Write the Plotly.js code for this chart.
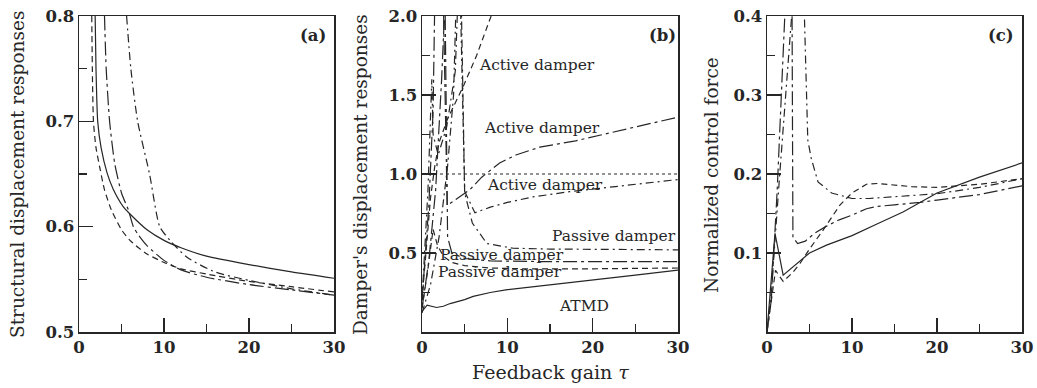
<!DOCTYPE html>
<html>
<head>
<meta charset="utf-8">
<script src="https://cdn.plot.ly/plotly-3.0.1.min.js"></script>
<style>
  html, body { margin: 0; padding: 0; background: #fff; }
  #chart { width: 1037px; height: 388px; }
</style>
</head>
<body>
<div id="chart"></div>
<script>
// ---- (a) structural displacement responses ----
const aSolidX = [1.9, 2.0, 2.2, 2.6, 3.3, 4.0, 5.2, 6.0, 8.0, 10, 12, 15, 20, 25, 30];
const aSolidY = [0.80, 0.75, 0.70, 0.675, 0.651, 0.636, 0.619, 0.612, 0.597, 0.587, 0.580, 0.572, 0.564, 0.557, 0.551];
const aDashX = [1.5, 1.7, 2.0, 2.5, 3.0, 3.8, 5.0, 6.0, 7.0, 8.0, 10, 12, 15, 20, 25, 30];
const aDashY = [0.80, 0.70, 0.675, 0.654, 0.635, 0.616, 0.597, 0.587, 0.580, 0.574, 0.566, 0.560, 0.555, 0.548, 0.543, 0.538];
const aChainX = [3.0, 3.2, 3.6, 4.2, 5.0, 5.8, 6.4, 7.0, 8.0, 10, 12, 15, 20, 25, 30];
const aChainY = [0.80, 0.75, 0.70, 0.66, 0.632, 0.616, 0.600, 0.592, 0.582, 0.568, 0.559, 0.552, 0.545, 0.540, 0.535];
const aDotDashX = [5.6, 6.1, 6.9, 8.3, 9.5, 10.7, 12.7, 16, 20, 25, 30];
const aDotDashY = [0.80, 0.75, 0.70, 0.65, 0.60, 0.587, 0.571, 0.557, 0.549, 0.541, 0.535];

// ---- (b) damper's displacement responses ----
const bAtmdX = [0, 0.6, 1.7, 2.5, 3.3, 4, 5, 6, 8, 10, 12, 15, 20, 25, 30];
const bAtmdY = [0.13, 0.17, 0.155, 0.163, 0.18, 0.19, 0.205, 0.225, 0.25, 0.268, 0.28, 0.297, 0.329, 0.36, 0.392];
const bActDashX = [0, 0.5, 1.0, 1.5, 2.0, 3.0, 4.0, 4.8, 6.4, 7.0, 8.1];
const bActDashY = [0.20, 0.55, 0.85, 1.05, 1.20, 1.35, 1.46, 1.55, 1.75, 1.84, 2.00];
const bPasDashX = [0, 0.7, 1.3, 1.8, 2.5, 3.5, 5, 8, 12, 20, 30];
const bPasDashY = [0.15, 0.40, 0.65, 0.55, 0.48, 0.44, 0.42, 0.405, 0.40, 0.40, 0.405];
const bActChainX = [0, 0.8, 1.3, 1.5, 2.5, 2.8, 2.95, 4.0, 5.6, 7.0, 9.1, 11, 13.8, 18, 22, 26, 30];
const bActChainY = [0.20, 0.80, 1.40, 2.10, 2.10, 1.10, 0.80, 0.84, 0.90, 0.98, 1.07, 1.12, 1.17, 1.21, 1.26, 1.31, 1.36];
const bPasChainX = [0, 0.8, 1.6, 2.3, 2.7, 2.9, 3.0, 3.5, 5, 8, 15, 30];
const bPasChainY = [0.15, 0.45, 0.90, 1.60, 2.10, 1.20, 0.60, 0.50, 0.465, 0.45, 0.445, 0.445];
const bActDotDashX = [0, 0.7, 1.15, 1.3, 1.9, 2.9, 3.9, 4.2, 4.5, 5.0, 6.2, 8, 10, 13, 17.3, 22, 26, 30];
const bActDotDashY = [0.20, 0.90, 1.60, 1.25, 1.12, 1.30, 1.65, 2.10, 2.10, 0.89, 0.755, 0.79, 0.82, 0.855, 0.888, 0.915, 0.94, 0.965];
const bPasDotDashX = [0, 1, 2, 3, 3.7, 4.0, 4.6, 5.0, 5.9, 7.6, 10.7, 15, 30];
const bPasDotDashY = [0.12, 0.30, 0.60, 1.05, 1.50, 2.10, 2.10, 0.88, 0.69, 0.56, 0.53, 0.525, 0.52];
const bRefX = [0, 30];
const bRefY = [1.0, 1.0];

// ---- (c) normalized control force ----
const cSolidX = [0, 0.94, 1.9, 3, 5, 7, 10, 13, 16, 20, 25, 30];
const cSolidY = [0, 0.125, 0.072, 0.082, 0.100, 0.110, 0.122, 0.137, 0.152, 0.176, 0.196, 0.214];
const cDashX = [0, 1, 1.9, 3, 3.9, 5, 6.6, 8.6, 10, 11.7, 13, 15, 17, 20, 25, 30];
const cDashY = [0, 0.078, 0.064, 0.075, 0.087, 0.105, 0.129, 0.161, 0.176, 0.187, 0.188, 0.186, 0.184, 0.183, 0.187, 0.194];
const cChainX = [0, 0.5, 1.2, 2.1, 2.5, 2.95, 3.05, 3.6, 4.5, 5.6, 7, 8.5, 10, 11.7, 13, 15, 18, 20, 25, 30];
const cChainY = [0, 0.04, 0.18, 0.40, 0.50, 0.40, 0.12, 0.112, 0.115, 0.125, 0.134, 0.142, 0.148, 0.156, 0.159, 0.161, 0.164, 0.167, 0.174, 0.185];
const cDotDashX = [0, 0.5, 1.5, 2.9, 3.5, 4.2, 4.4, 4.8, 5.2, 6, 7.6, 10, 12, 15, 20, 25, 30];
const cDotDashY = [0, 0.05, 0.20, 0.40, 0.55, 0.50, 0.40, 0.243, 0.22, 0.19, 0.176, 0.169, 0.169, 0.171, 0.175, 0.183, 0.194];

const xTicks = [0, 10, 20, 30];

const INK = '#262626';
const SERIF = 'DejaVu Serif';
const DASH = '6px,4px';
const CHAIN = '14px,4px,3px,4px';
const DOTDASH = '8px,4px,2px,4px';

function line(x, y, dash, xa, ya, shape) {
  return {
    x: x, y: y, xaxis: xa, yaxis: ya, type: 'scatter', mode: 'lines',
    line: { color: INK, width: 1.2, dash: dash, shape: shape || 'linear', smoothing: 0.6 },
    hoverinfo: 'skip'
  };
}

const traces = [
  line(aSolidX, aSolidY, 'solid', 'x', 'y', 'spline'),
  line(aDashX, aDashY, DASH, 'x', 'y', 'spline'),
  line(aChainX, aChainY, CHAIN, 'x', 'y', 'spline'),
  line(aDotDashX, aDotDashY, DOTDASH, 'x', 'y', 'spline'),

  line(bRefX, bRefY, '3px,3px', 'x2', 'y2'),
  line(bAtmdX, bAtmdY, 'solid', 'x2', 'y2'),
  line(bActDashX, bActDashY, DASH, 'x2', 'y2'),
  line(bPasDashX, bPasDashY, DASH, 'x2', 'y2'),
  line(bActChainX, bActChainY, CHAIN, 'x2', 'y2'),
  line(bPasChainX, bPasChainY, CHAIN, 'x2', 'y2'),
  line(bActDotDashX, bActDotDashY, DOTDASH, 'x2', 'y2'),
  line(bPasDotDashX, bPasDotDashY, DOTDASH, 'x2', 'y2'),

  line(cSolidX, cSolidY, 'solid', 'x3', 'y3'),
  line(cDashX, cDashY, DASH, 'x3', 'y3'),
  line(cChainX, cChainY, CHAIN, 'x3', 'y3'),
  line(cDotDashX, cDotDashY, DOTDASH, 'x3', 'y3')
];

const W = 1037, H = 388;
const yDom = [1 - 332 / H, 1 - 16 / H];
const tickFont = { family: SERIF, size: 16.5, color: INK, weight: 'bold' };

function xAxis(left, right, anchor) {
  return {
    domain: [left / W, right / W], anchor: anchor, range: [0, 30],
    tickvals: xTicks, ticktext: xTicks.map(String),
    showline: true, mirror: true, linecolor: INK, linewidth: 1.5,
    ticks: 'inside', ticklen: 14, tickwidth: 1.2, tickcolor: INK,
    minor: { ticks: 'inside', ticklen: 8, dtick: 5, tick0: 0, tickwidth: 1.2, tickcolor: INK, showgrid: false },
    showgrid: false, zeroline: false, tickfont: tickFont, fixedrange: true
  };
}
function yAxis(range, vals, minorStep, anchor) {
  return {
    domain: yDom, anchor: anchor, range: range,
    tickvals: vals, ticktext: vals.map(v => v.toFixed(1)),
    showline: true, mirror: true, linecolor: INK, linewidth: 1.5,
    ticks: 'inside', ticklen: 14, tickwidth: 1.2, tickcolor: INK,
    minor: { ticks: 'inside', ticklen: 8, dtick: minorStep, tick0: 0, tickwidth: 1.2, tickcolor: INK, showgrid: false },
    showgrid: false, zeroline: false, tickfont: tickFont, fixedrange: true
  };
}

function paperText(text, px, py, opts) {
  return Object.assign({
    text: text, xref: 'paper', yref: 'paper', x: px / W, y: 1 - py / H,
    xanchor: 'center', yanchor: 'middle', showarrow: false,
    font: { family: SERIF, size: 18.5, color: INK }
  }, opts || {});
}
function bLabel(text, tx, ty) {
  return {
    text: text, xref: 'x2', yref: 'y2', x: tx, y: ty,
    xanchor: 'center', yanchor: 'middle', showarrow: false,
    font: { family: SERIF, size: 15.5, color: INK }
  };
}

const panelFont = { family: SERIF, size: 16.5, color: INK, weight: 'bold' };

const annotations = [
  paperText('Structural displacement responses', 18, 175, { textangle: -90 }),
  paperText("Damper's displacement responses", 361, 175, { textangle: -90 }),
  paperText('Normalized control force', 712, 175, { textangle: -90 }),
  paperText('Feedback gain <i>τ</i>', 550, 372, { font: { family: SERIF, size: 19, color: INK } }),
  paperText('(a)', 313, 35, { font: panelFont }),
  paperText('(b)', 662, 35, { font: panelFont }),
  paperText('(c)', 1001, 35, { font: panelFont }),
  bLabel('Active damper', 13.5, 1.69),
  bLabel('Active damper', 14.1, 1.29),
  bLabel('Active damper', 14.4, 0.93),
  bLabel('Passive damper', 22.5, 0.61),
  bLabel('Passive damper', 9.4, 0.49),
  bLabel('Passive damper', 9.1, 0.38),
  bLabel('ATMD', 19, 0.165)
];

const layout = {
  width: W, height: H,
  margin: { l: 0, r: 0, t: 0, b: 0 },
  paper_bgcolor: '#fff', plot_bgcolor: '#fff',
  showlegend: false,
  xaxis: xAxis(79, 334, 'y'),
  yaxis: yAxis([0.5, 0.8], [0.5, 0.6, 0.7, 0.8], 0.05, 'x'),
  xaxis2: xAxis(422, 678, 'y2'),
  yaxis2: yAxis([0, 2.0], [0.5, 1.0, 1.5, 2.0], 0.25, 'x2'),
  xaxis3: xAxis(767, 1022, 'y3'),
  yaxis3: yAxis([0, 0.4], [0.1, 0.2, 0.3, 0.4], 0.05, 'x3'),
  annotations: annotations
};

Plotly.newPlot('chart', traces, layout, { staticPlot: true, displayModeBar: false });
</script>
</body>
</html>
